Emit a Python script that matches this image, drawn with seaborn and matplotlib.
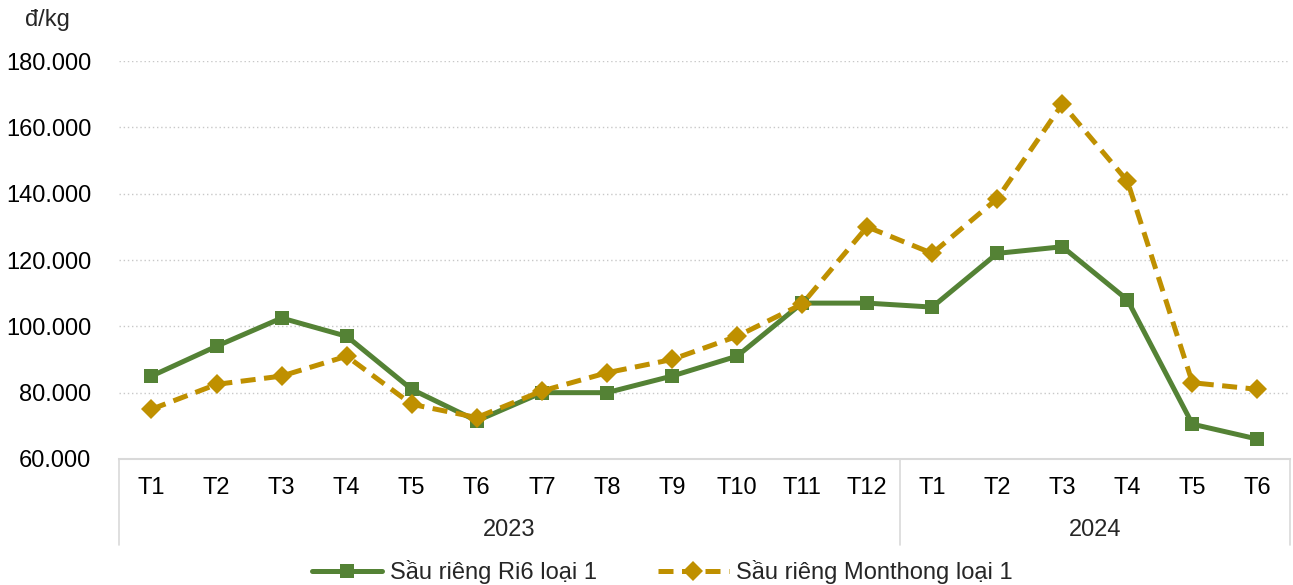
import pandas as pd
import numpy as np
import matplotlib.pyplot as plt
import matplotlib.transforms as mtransforms
import seaborn as sns

# Data
months = ["T1", "T2", "T3", "T4", "T5", "T6", "T7", "T8", "T9", "T10", "T11", "T12",
          "T1", "T2", "T3", "T4", "T5", "T6"]
years = ["2023", "2024"]
months_per_year = [12, 6]
ri6 = [85000, 94000, 102500, 97000, 81000, 71500, 80000, 80000, 85000, 91000, 107000, 107000,
       105800, 122000, 124000, 108000, 70500, 66000]
monthong = [75000, 82500, 85000, 91000, 76500, 72500, 80500, 86000, 90000, 97000, 106700, 130000,
            122000, 138500, 167000, 143800, 83000, 81000]
series_names = ["Sầu riêng Ri6 loại 1", "Sầu riêng Monthong loại 1"]
y_ticks = [60000, 80000, 100000, 120000, 140000, 160000, 180000]
unit_label = "đ/kg"

GREEN = "#548235"
GOLD = "#BF9000"
FS = 17


def build_frame():
    pos = np.arange(len(months))
    df = pd.concat([
        pd.DataFrame({"pos": pos, "price": ri6, "series": series_names[0]}),
        pd.DataFrame({"pos": pos, "price": monthong, "series": series_names[1]}),
    ], ignore_index=True)
    return df


def draw(df):
    sns.set_theme(style="white")
    plt.rcParams["font.family"] = ["Liberation Sans", "DejaVu Sans"]

    fig = plt.figure(figsize=(12.93, 5.85), dpi=100)
    ax = fig.add_axes([0.092, 0.2154, 0.9057, 0.6803])

    sns.lineplot(data=df, x="pos", y="price", hue="series", style="series",
                 palette={series_names[0]: GREEN, series_names[1]: GOLD},
                 markers={series_names[0]: "s", series_names[1]: "D"},
                 dashes={series_names[0]: "", series_names[1]: (3, 1.7)},
                 linewidth=3.6, markersize=10.5, markeredgewidth=0, ax=ax)
    for line in ax.get_lines():
        if line.get_marker() == "D":
            line.set_markersize(10)

    ax.set_xlim(-0.5, len(months) - 0.5)
    ax.set_ylim(y_ticks[0], y_ticks[-1])
    ax.set_yticks(y_ticks)
    ax.set_yticklabels([f"{v:,.0f}".replace(",", ".") for v in y_ticks])
    ax.set_xticks(np.arange(len(months)))
    ax.set_xticklabels(months)
    ax.tick_params(axis="y", length=0, pad=20, labelsize=FS, colors="#000000")
    ax.tick_params(axis="x", length=0, pad=13, labelsize=FS, colors="#000000")
    ax.set_xlabel("")
    ax.set_ylabel("")

    ax.yaxis.grid(True, linestyle=(0, (1, 2)), color="#c8c8c8", linewidth=1)
    ax.set_axisbelow(True)
    for side in ["top", "left", "right"]:
        ax.spines[side].set_visible(False)
    ax.spines["bottom"].set_color("#d9d9d9")
    ax.spines["bottom"].set_linewidth(1.5)

    # hierarchical category axis: year labels and separators
    trans = mtransforms.blended_transform_factory(ax.transData, ax.transAxes)
    bounds = np.concatenate([[0], np.cumsum(months_per_year)]) - 0.5
    for b in bounds:
        ax.plot([b, b], [0, -0.216], transform=trans, clip_on=False,
                color="#d9d9d9", linewidth=1.2)
    for i, yr in enumerate(years):
        ax.text((bounds[i] + bounds[i + 1]) / 2, -0.178, yr, transform=trans,
                ha="center", va="center", fontsize=FS)

    fig.text(0.0365, 0.966, unit_label, ha="center", va="center", fontsize=FS)

    handles, labels = ax.get_legend_handles_labels()
    ax.legend(handles, labels, loc="center", bbox_to_anchor=(0.512, 0.022),
              bbox_transform=fig.transFigure, ncol=2, frameon=False,
              fontsize=FS, handlelength=3.0, columnspacing=2.6, handletextpad=0.3)

    fig.savefig("out.png", dpi=100)


if __name__ == "__main__":
    df = build_frame()
    draw(df)
